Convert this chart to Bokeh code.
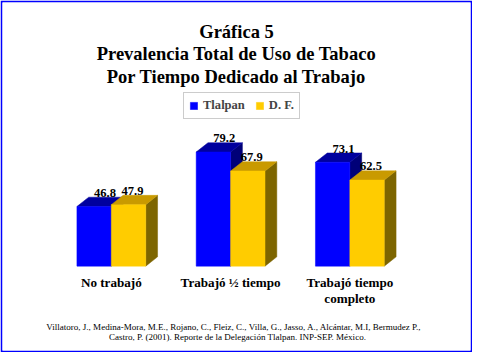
from bokeh.plotting import figure
from bokeh.models import Range1d, Legend, LegendItem
from bokeh.core.properties import value
from bokeh.embed import file_html
from bokeh.resources import INLINE

# ---------------- data ----------------
categories = ["No trabajó", "Trabajó ½ tiempo", "Trabajó tiempo\ncompleto"]
series_names = ["Tlalpan", "D. F."]
tlalpan = [46.8, 79.2, 73.1]
distrito_federal = [47.9, 67.9, 62.5]
title_lines = ["Gráfica 5",
               "Prevalencia Total de Uso de Tabaco",
               "Por Tiempo Dedicado al Trabajo"]
source_lines = ["Villatoro, J., Medina-Mora, M.E., Rojano, C., Fleiz, C., Villa, G., Jasso, A., Alcántar, M.I, Bermudez P.,",
                "Castro, P. (2001). Reporte de la Delegación Tlalpan. INP-SEP. México."]
AXIS_MIN = 11.3          # floor of the (hidden) 3-D value axis

# ---------------- layout (reference 480x360 pixel grid) ----------------
W, H, BORDER = 472, 352, 2
GROUP0_X, GROUP_STEP = 112.7, 121.3     # ref px of first group centre, spacing
BASE_Y, PX_PER_UNIT = 271.7, 1.719      # ref px of axis floor, px per value unit
REF_L, REF_R, REF_T, REF_B = 2, 478, 2, 358
SX = (W - 2 * BORDER) / (REF_R - REF_L)
SY = (H - 2 * BORDER) / (REF_B - REF_T)
S = (SX + SY) / 2


def rx(px):
    return (px - GROUP0_X) / GROUP_STEP


def ry(py):
    return AXIS_MIN + (BASE_Y - py) / PX_PER_UNIT


def fs(px):
    return f"{px * S:.2f}px"


BAR_W = 35 / GROUP_STEP
DX = 12 / GROUP_STEP
DY = 9.5 / PX_PER_UNIT
FONT = "Liberation Serif"
SERIF = value(FONT)

p = figure(width=W, height=H, output_backend="svg", toolbar_location=None,
           x_range=Range1d(rx(REF_L), rx(REF_R)),
           y_range=Range1d(ry(REF_B), ry(REF_T)),
           x_axis_location=None, y_axis_location=None,
           min_border=BORDER, border_fill_color="#0000FF",
           background_fill_color="white", outline_line_color=None)
p.xgrid.visible = False
p.ygrid.visible = False

series = [
    (tlalpan, -1, "#0000FF", "#00009E", "#000078"),
    (distrito_federal, 0, "#FFCC00", "#C99A00", "#7D6500"),
]
front_renderers = []
for vals, shift, c_front, c_top, c_side in series:
    lefts = [i + shift * BAR_W for i in range(len(vals))]
    rights = [l + BAR_W for l in lefts]
    side_xs = [[r, r, r + DX, r + DX] for r in rights]
    side_ys = [[AXIS_MIN, v, v + DY, AXIS_MIN + DY] for v in vals]
    top_xs = [[l, r, r + DX, l + DX] for l, r in zip(lefts, rights)]
    top_ys = [[v, v, v + DY, v + DY] for v in vals]
    p.patches(side_xs, side_ys, fill_color=c_side, line_color=c_side, line_width=0.5)
    p.patches(top_xs, top_ys, fill_color=c_top, line_color=c_top, line_width=0.5)
    r = p.quad(left=lefts, right=rights, bottom=AXIS_MIN, top=vals,
               fill_color=c_front, line_color=c_front, line_width=0.5)
    front_renderers.append(r)

# value labels
lab_x, lab_y, lab_t = [], [], []
for vals, off in ((tlalpan, -BAR_W / 2 + 11 / GROUP_STEP),
                  (distrito_federal, BAR_W / 2 + 4 / GROUP_STEP)):
    for i, v in enumerate(vals):
        lab_x.append(i + off)
        lab_y.append(v + 14 / PX_PER_UNIT)
        lab_t.append(f"{v:.1f}")
p.text(lab_x, lab_y, text=lab_t, text_font=SERIF, text_font_style="bold",
       text_font_size=fs(12.8), text_align="center", text_baseline="middle",
       text_color="black")

# category labels
p.text(list(range(len(categories))), [ry(280.3)] * len(categories), text=categories,
       text_font=SERIF, text_font_style="bold", text_font_size=fs(13.4),
       text_align="center", text_baseline="top", text_line_height=1.08,
       text_color="black")

# title
p.text([rx(240)] * 3, [ry(31.5), ry(54.5), ry(77.3)], text=title_lines,
       text_font=SERIF, text_font_style="bold", text_font_size=fs(18.9),
       text_align="center", text_baseline="middle", text_color="black")

# source
p.text([rx(237.5), rx(241)], [ry(334), ry(343.8)], text=source_lines,
       text_font=SERIF, text_font_size=fs(9.2),
       text_align="center", text_baseline="middle", text_color="black")

legend = Legend(items=[LegendItem(label=series_names[0], renderers=[front_renderers[0]]),
                       LegendItem(label=series_names[1], renderers=[front_renderers[1]])],
                orientation="horizontal",
                location=(round((186.5 - REF_L) * SX), round((REF_B - 121.5) * SY)),
                glyph_width=9, glyph_height=9, label_height=12, label_standoff=5,
                spacing=10, padding=5, margin=0,
                label_text_font=FONT, label_text_font_style="bold",
                label_text_font_size=fs(12.8),
                border_line_color="#9A9A9A", border_line_width=1.5,
                background_fill_color="white", background_fill_alpha=1)
p.add_layout(legend)

open("out.html", "w").write(file_html(p, INLINE))
